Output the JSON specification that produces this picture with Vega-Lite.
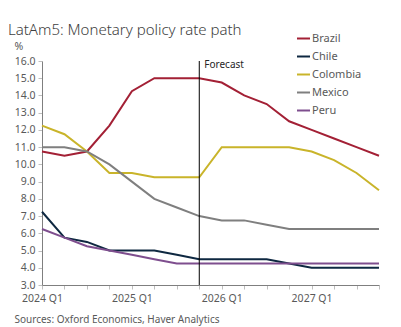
{
  "$schema": "https://vega.github.io/schema/vega-lite/v6.json",
  "width": 337,
  "height": 224,
  "autosize": "none",
  "padding": {"left": 42, "top": 61, "right": 22, "bottom": 42},
  "background": "white",
  "config": {
    "font": "Noto Sans",
    "view": {"stroke": null},
    "axis": {"labelColor": "#595959", "labelFontSize": 10.5, "domainColor": "#7f7f7f", "tickColor": "#bfbfbf", "tickSize": 4, "grid": false, "labelFont": "Noto Sans", "labelOverlap": false}
  },
  "title": {
    "text": "LatAm5: Monetary policy rate path",
    "anchor": "start",
    "frame": "group",
    "dx": -34,
    "dy": 29,
    "fontSize": 15,
    "fontWeight": 300,
    "color": "#404040",
    "offset": 22
  },
  "data": {"values": [
    {"q": "2024 Q1", "country": "Brazil", "v": 10.75},
    {"q": "2024 Q2", "country": "Brazil", "v": 10.5},
    {"q": "2024 Q3", "country": "Brazil", "v": 10.75},
    {"q": "2024 Q4", "country": "Brazil", "v": 12.25},
    {"q": "2025 Q1", "country": "Brazil", "v": 14.25},
    {"q": "2025 Q2", "country": "Brazil", "v": 15.0},
    {"q": "2025 Q3", "country": "Brazil", "v": 15.0},
    {"q": "2025 Q4", "country": "Brazil", "v": 15.0},
    {"q": "2026 Q1", "country": "Brazil", "v": 14.75},
    {"q": "2026 Q2", "country": "Brazil", "v": 14.0},
    {"q": "2026 Q3", "country": "Brazil", "v": 13.5},
    {"q": "2026 Q4", "country": "Brazil", "v": 12.5},
    {"q": "2027 Q1", "country": "Brazil", "v": 12.0},
    {"q": "2027 Q2", "country": "Brazil", "v": 11.5},
    {"q": "2027 Q3", "country": "Brazil", "v": 11.0},
    {"q": "2027 Q4", "country": "Brazil", "v": 10.5},
    {"q": "2024 Q1", "country": "Chile", "v": 7.25},
    {"q": "2024 Q2", "country": "Chile", "v": 5.75},
    {"q": "2024 Q3", "country": "Chile", "v": 5.5},
    {"q": "2024 Q4", "country": "Chile", "v": 5.0},
    {"q": "2025 Q1", "country": "Chile", "v": 5.0},
    {"q": "2025 Q2", "country": "Chile", "v": 5.0},
    {"q": "2025 Q3", "country": "Chile", "v": 4.75},
    {"q": "2025 Q4", "country": "Chile", "v": 4.5},
    {"q": "2026 Q1", "country": "Chile", "v": 4.5},
    {"q": "2026 Q2", "country": "Chile", "v": 4.5},
    {"q": "2026 Q3", "country": "Chile", "v": 4.5},
    {"q": "2026 Q4", "country": "Chile", "v": 4.25},
    {"q": "2027 Q1", "country": "Chile", "v": 4.0},
    {"q": "2027 Q2", "country": "Chile", "v": 4.0},
    {"q": "2027 Q3", "country": "Chile", "v": 4.0},
    {"q": "2027 Q4", "country": "Chile", "v": 4.0},
    {"q": "2024 Q1", "country": "Colombia", "v": 12.25},
    {"q": "2024 Q2", "country": "Colombia", "v": 11.75},
    {"q": "2024 Q3", "country": "Colombia", "v": 10.75},
    {"q": "2024 Q4", "country": "Colombia", "v": 9.5},
    {"q": "2025 Q1", "country": "Colombia", "v": 9.5},
    {"q": "2025 Q2", "country": "Colombia", "v": 9.25},
    {"q": "2025 Q3", "country": "Colombia", "v": 9.25},
    {"q": "2025 Q4", "country": "Colombia", "v": 9.25},
    {"q": "2026 Q1", "country": "Colombia", "v": 11.0},
    {"q": "2026 Q2", "country": "Colombia", "v": 11.0},
    {"q": "2026 Q3", "country": "Colombia", "v": 11.0},
    {"q": "2026 Q4", "country": "Colombia", "v": 11.0},
    {"q": "2027 Q1", "country": "Colombia", "v": 10.75},
    {"q": "2027 Q2", "country": "Colombia", "v": 10.25},
    {"q": "2027 Q3", "country": "Colombia", "v": 9.5},
    {"q": "2027 Q4", "country": "Colombia", "v": 8.5},
    {"q": "2024 Q1", "country": "Mexico", "v": 11.0},
    {"q": "2024 Q2", "country": "Mexico", "v": 11.0},
    {"q": "2024 Q3", "country": "Mexico", "v": 10.75},
    {"q": "2024 Q4", "country": "Mexico", "v": 10.0},
    {"q": "2025 Q1", "country": "Mexico", "v": 9.0},
    {"q": "2025 Q2", "country": "Mexico", "v": 8.0},
    {"q": "2025 Q3", "country": "Mexico", "v": 7.5},
    {"q": "2025 Q4", "country": "Mexico", "v": 7.0},
    {"q": "2026 Q1", "country": "Mexico", "v": 6.75},
    {"q": "2026 Q2", "country": "Mexico", "v": 6.75},
    {"q": "2026 Q3", "country": "Mexico", "v": 6.5},
    {"q": "2026 Q4", "country": "Mexico", "v": 6.25},
    {"q": "2027 Q1", "country": "Mexico", "v": 6.25},
    {"q": "2027 Q2", "country": "Mexico", "v": 6.25},
    {"q": "2027 Q3", "country": "Mexico", "v": 6.25},
    {"q": "2027 Q4", "country": "Mexico", "v": 6.25},
    {"q": "2024 Q1", "country": "Peru", "v": 6.25},
    {"q": "2024 Q2", "country": "Peru", "v": 5.75},
    {"q": "2024 Q3", "country": "Peru", "v": 5.25},
    {"q": "2024 Q4", "country": "Peru", "v": 5.0},
    {"q": "2025 Q1", "country": "Peru", "v": 4.75},
    {"q": "2025 Q2", "country": "Peru", "v": 4.5},
    {"q": "2025 Q3", "country": "Peru", "v": 4.25},
    {"q": "2025 Q4", "country": "Peru", "v": 4.25},
    {"q": "2026 Q1", "country": "Peru", "v": 4.25},
    {"q": "2026 Q2", "country": "Peru", "v": 4.25},
    {"q": "2026 Q3", "country": "Peru", "v": 4.25},
    {"q": "2026 Q4", "country": "Peru", "v": 4.25},
    {"q": "2027 Q1", "country": "Peru", "v": 4.25},
    {"q": "2027 Q2", "country": "Peru", "v": 4.25},
    {"q": "2027 Q3", "country": "Peru", "v": 4.25},
    {"q": "2027 Q4", "country": "Peru", "v": 4.25}
  ]},
  "encoding": {
    "x": {
      "field": "q", "type": "ordinal",
      "scale": {"type": "point", "padding": 0},
      "axis": {
        "labelAngle": 0,
        "labelExpr": "substring(datum.label, 5, 7) == 'Q1' ? datum.label : ''",
        "labelPadding": 4,
        "title": "Sources: Oxford Economics, Haver Analytics",
        "titleFontSize": 10,
        "titleFontWeight": "normal",
        "titleColor": "#595959",
        "titleAnchor": "start",
        "titleAlign": "left",
        "titleX": -28,
        "titleY": 37,
        "titleBaseline": "alphabetic"
      }
    },
    "y": {
      "field": "v", "type": "quantitative",
      "scale": {"domain": [3, 16], "nice": false, "zero": false},
      "axis": {
        "values": [3,4,5,6,7,8,9,10,11,12,13,14,15,16],
        "format": ".1f",
        "labelOverlap": false,
        "labelSeparation": 0,
        "title": "%",
        "titleAngle": 0,
        "titleAlign": "left",
        "titleBaseline": "alphabetic",
        "titleX": -28,
        "titleY": -12,
        "titleFontSize": 10.5,
        "titleFontWeight": "normal",
        "titleColor": "#595959",
        "labelPadding": 3
      }
    }
  },
  "layer": [
    {
      "mark": {"type": "line", "strokeWidth": 2},
      "encoding": {
        "color": {
          "field": "country", "type": "nominal",
          "scale": {
            "domain": ["Brazil", "Chile", "Colombia", "Mexico", "Peru"],
            "range": ["#A32035", "#0E2841", "#C9B42A", "#7F7F7F", "#7E4E8E"]
          },
          "legend": {
            "title": null,
            "orient": "none",
            "legendX": 254,
            "legendY": -30,
            "symbolType": "stroke",
            "symbolSize": 169,
            "symbolStrokeWidth": 2,
            "labelFontSize": 11,
            "labelColor": "#595959",
            "labelOffset": 1,
            "rowPadding": 5
          }
        }
      }
    },
    {
      "data": {"values": [{"q": "2025 Q4", "label": "Forecast", "v": 16, "v0": 3}]},
      "mark": {"type": "rule", "color": "black", "strokeWidth": 1},
      "encoding": {"y2": {"field": "v0"}}
    },
    {
      "data": {"values": [{"q": "2025 Q4", "label": "Forecast", "v": 16}]},
      "mark": {"type": "text", "align": "left", "baseline": "top", "dx": 5, "dy": -1, "fontSize": 10, "color": "#262626"},
      "encoding": {
        "text": {"field": "label"}
      }
    }
  ]
}
